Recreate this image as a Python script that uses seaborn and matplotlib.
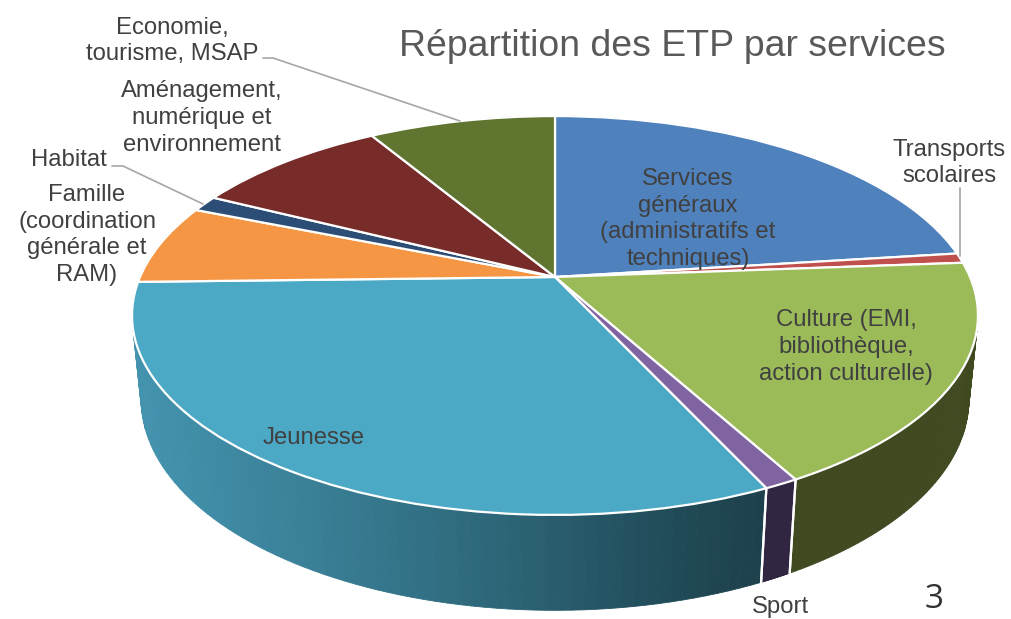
import numpy as np
import seaborn as sns
import matplotlib
matplotlib.use("Agg")
import matplotlib.pyplot as plt
from matplotlib.transforms import Transform

# Chart data
categories = ["Services\ngénéraux\n(administratifs et\ntechniques)", "Transports\nscolaires",
              "Culture (EMI,\nbibliothèque,\naction culturelle)", "Sport", "Jeunesse",
              "Famille\n(coordination\ngénérale et\nRAM)", "Habitat",
              "Aménagement,\nnumérique et\nenvironnement", "Economie,\ntourisme, MSAP"]
shares = [23.0, 0.8, 18.2, 1.1, 31.5, 6.5, 1.3, 9.0, 8.6]
title_text = "Répartition des ETP par services"
page_number = "3"

# Colours and layout
top_colors = ["#4f81bd", "#c0504d", "#9bbb59", "#8064a2", "#4ba9c5",
              "#f59644", "#2c4d75", "#772c2a", "#5f7530"]
side_colors = ["#2f4d71", "#73302e", "#3f4a21", "#312642", None,
               "#935a29", "#1a2e46", "#471a19", "#39461d"]
label_xy = [(688, 219), (949, 163), (846, 347), (780, 607), (314, 438),
            (87, 235), (69, 160), (202, 118), (172, 41)]

sns.set_theme(style="white")
plt.rcParams["font.family"] = ["Liberation Sans", "DejaVu Sans"]

# Perspective of the tilted disc, in picture pixels
APEX_X, APEX_Y = 555, 277
WIDTH, HEIGHT, TILT = 415, 192, 0.193
DROP, SHRINK = 84, 0.021


def project(u, v, depth=0.0):
    w = 1 + TILT * v + SHRINK * depth
    return APEX_X + WIDTH * u / w, APEX_Y - (HEIGHT * v - DROP * depth) / w


class DiscTransform(Transform):
    input_dims = 2
    output_dims = 2
    is_separable = False
    has_inverse = False

    def transform_non_affine(self, values):
        values = np.asarray(values)
        x, y = project(values[:, 0], values[:, 1])
        return np.column_stack([x, y])


def jeunesse_side(x):
    # side of the big slice darkens from left to right
    stops_x = [140, 330, 500, 640, 760]
    stops = np.array([[67, 147, 174], [56, 124, 147], [44, 101, 118], [34, 78, 92], [30, 65, 76]]) / 255
    return [np.interp(x, stops_x, stops[:, i]) for i in range(3)]


fig = plt.figure(figsize=(10.11, 6.19), dpi=100)
ax = fig.add_axes([0, 0, 1, 1])

wedges, _ = ax.pie(shares, colors=top_colors, startangle=90, counterclock=False,
                   wedgeprops={"edgecolor": "white", "linewidth": 1.6, "zorder": 3})
ax.set_aspect("auto")
ax.set_xlim(0, 1011)
ax.set_ylim(619, 0)

# top face goes through the perspective
disc = DiscTransform()
for wedge in wedges:
    wedge.set_transform(disc + ax.transData)

# side wall, one thin strip at a time
for i, wedge in enumerate(wedges):
    angles = np.radians(np.linspace(wedge.theta1, wedge.theta2, 80))
    u, v = np.cos(angles), np.sin(angles)
    x_top, y_top = project(u, v)
    x_low, y_low = project(u, v, 1.0)
    for j in range(len(angles) - 1):
        color = side_colors[i] if side_colors[i] else jeunesse_side(x_top[j])
        ax.fill([x_top[j], x_top[j + 1], x_low[j + 1], x_low[j]],
                [y_top[j], y_top[j + 1], y_low[j + 1], y_low[j]],
                color=color, linewidth=0.6, zorder=1)

# white joints between the front slices
for wedge in wedges:
    for theta in (wedge.theta1, wedge.theta2):
        u, v = np.cos(np.radians(theta)), np.sin(np.radians(theta))
        if v < -0.3:
            x0, y0 = project(u, v)
            x1, y1 = project(u, v, 1.0)
            ax.plot([x0, x1], [y0, y1], color="white", linewidth=1.6, zorder=2)

# leader lines
ax.plot([263, 273, 460], [58, 58, 121], color="#a6a6a6", linewidth=1.2, zorder=4)
ax.plot([112, 123, 203], [166, 166, 204], color="#a6a6a6", linewidth=1.2, zorder=4)
ax.plot([960, 960], [188, 256], color="#a6a6a6", linewidth=1.2, zorder=4)

for name, (x, y) in zip(categories, label_xy):
    ax.text(x, y, name, ha="center", va="center", fontsize=17.2, color="#404040",
            linespacing=1.29, zorder=5)

ax.text(672, 47, title_text, ha="center", va="center", fontsize=26.9, color="#595959", zorder=5)
ax.text(934, 600, page_number, ha="center", va="center", fontsize=24, color="#333333",
        family="Open Sans", zorder=5)

fig.savefig("out.png", dpi=100)
